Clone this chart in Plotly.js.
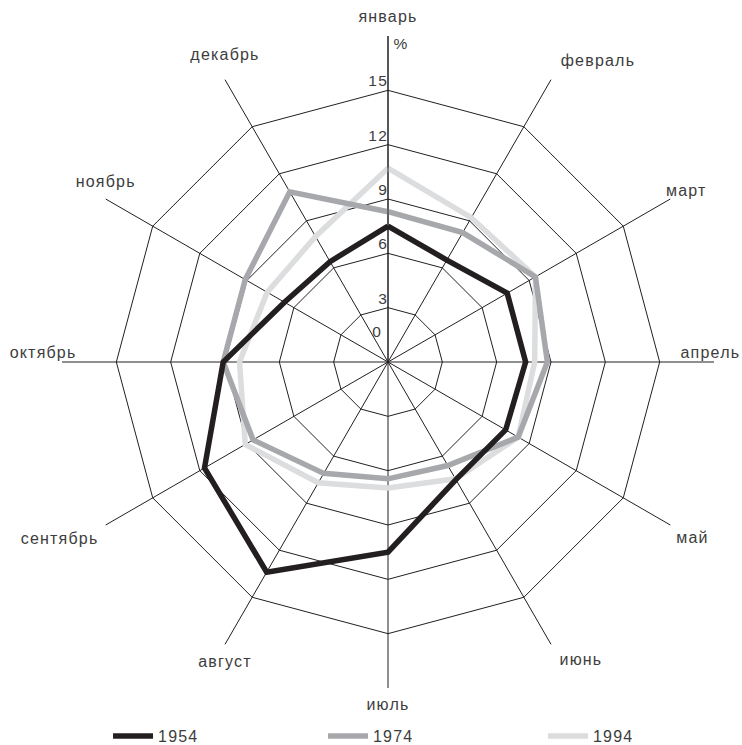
<!DOCTYPE html>
<html>
<head>
<meta charset="utf-8">
<script src="https://cdn.plot.ly/plotly-3.0.1.min.js"></script>
<style>
html,body{margin:0;padding:0;background:#fff;}
#chart{width:742px;height:745px;}
#chart svg text{letter-spacing:1.2px;}
</style>
</head>
<body>
<div id="chart"></div>
<script>
// ---- data ----
const months = ['январь','февраль','март','апрель','май','июнь','июль','август','сентябрь','октябрь','ноябрь','декабрь'];
const years = ['1954','1974','1994'];
const v1954 = [7.5, 6.5, 7.6, 7.6, 7.5, 7.5, 10.5, 13.4, 11.7, 9.1, 6.6, 6.4];
const v1974 = [8.3, 8.25, 9.4, 8.8, 8.3, 6.6, 6.45, 7.1, 8.6, 9.1, 9.1, 10.85];
const v1994 = [10.7, 9.2, 9.4, 8.1, 8.3, 7.45, 6.95, 7.7, 9.1, 8.2, 7.7, 8.0];
const radialTicks = [0, 3, 6, 9, 12, 15];
const radialTickText = ['0', '3', '6', '9', '12', '15'];
const unitLabel = '%';

// ---- styles / positions ----
const lineColors = ['#231f20', '#a6a8ab', '#dcddde'];
const gridColor = '#231f20';
const textColor = '#3d3d3d';
const fontFamily = '"Liberation Sans", Arial, sans-serif';
const rMax = 18;
const monthLabelR = [18, 18, 17.5, 17.8, 18, 18, 18, 18, 18, 17.2, 18, 18];
const monthLabelPos = ['top center','top right','top right','top center','bottom right','bottom right',
                       'bottom center','bottom center','bottom left','top left','top center','top center'];
const monthLabelPad = [14, 14, 4, 0, 8, 12, 14, 16, 10, 0, 12, 24];
const legendX = [0.1456, 0.4353, 0.7318];
const legendIds = ['legend', 'legend2', 'legend3'];

const close = a => a.concat([a[0]]);
const series = [v1954, v1974, v1994];

const traces = [];
// draw 1994 first so 1954 sits on top
for (let i = series.length - 1; i >= 0; i--) {
  traces.push({
    type: 'scatterpolar',
    mode: 'lines',
    r: close(series[i]),
    theta: close(months),
    name: years[i],
    legend: legendIds[i],
    line: {color: lineColors[i], width: 5.5, shape: 'linear'},
    hoverinfo: 'skip'
  });
}
// month labels (invisible markers only give the text its stand-off)
traces.push({
  type: 'scatterpolar', mode: 'markers+text',
  r: monthLabelR, theta: months, text: months,
  textposition: monthLabelPos,
  marker: {size: monthLabelPad, opacity: 0, color: '#fff'},
  textfont: {family: fontFamily, size: 16, color: textColor},
  cliponaxis: false, showlegend: false, hoverinfo: 'skip'
});
// radial tick labels above each ring (0 is drawn by the radial axis itself)
traces.push({
  type: 'scatterpolar', mode: 'text',
  r: radialTicks.slice(1), theta: radialTicks.slice(1).map(() => months[0]), text: radialTickText.slice(1),
  textposition: 'top left',
  textfont: {family: fontFamily, size: 15.5, color: textColor},
  cliponaxis: false, showlegend: false, hoverinfo: 'skip'
});

function legendCfg(x) {
  return {
    orientation: 'h', xref: 'container', yref: 'container',
    x: x, xanchor: 'left', y: 0.012, yanchor: 'middle',
    itemwidth: 40,
    font: {family: fontFamily, size: 16, color: textColor},
    bgcolor: 'rgba(0,0,0,0)', borderwidth: 0
  };
}

const layout = {
  width: 742, height: 745,
  margin: {l: 62, r: 28, t: 36, b: 57, pad: 0},
  paper_bgcolor: '#fff',
  font: {family: fontFamily, size: 15, color: textColor},
  showlegend: true,
  legend: legendCfg(legendX[0]),
  legend2: legendCfg(legendX[1]),
  legend3: legendCfg(legendX[2]),
  polar: {
    domain: {x: [0, 1], y: [0, 1]},
    gridshape: 'linear',
    bgcolor: '#fff',
    angularaxis: {
      type: 'category', categoryarray: months,
      rotation: 90, direction: 'clockwise',
      showline: false, showticklabels: false, ticks: '',
      showgrid: true, gridcolor: gridColor, gridwidth: 1
    },
    radialaxis: {
      range: [0, rMax], tickvals: radialTicks,
      ticktext: radialTickText.map((t, i) => i === 0 ? t + '<br> <br> <br> ' : ''),
      showticklabels: true, ticks: '', tickangle: 90, side: 'counterclockwise',
      tickfont: {family: fontFamily, size: 15.5, color: textColor},
      showline: true, linecolor: gridColor, linewidth: 1,
      showgrid: true, gridcolor: gridColor, gridwidth: 1,
      angle: 90
    }
  },
  annotations: [{
    text: unitLabel, xref: 'paper', yref: 'paper',
    x: 0.506, y: 0.988, xanchor: 'left', yanchor: 'middle', showarrow: false,
    font: {family: fontFamily, size: 15.5, color: textColor}
  }]
};

Plotly.newPlot('chart', traces, layout, {displayModeBar: false, staticPlot: true});
</script>
</body>
</html>
